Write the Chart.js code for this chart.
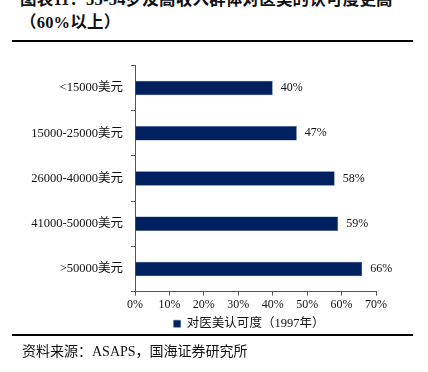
<!DOCTYPE html>
<html>
<head>
<meta charset="utf-8">
<script src="https://cdn.jsdelivr.net/npm/chart.js@4"></script>
<style>
  body { margin: 0; width: 428px; height: 372px; background: #fff; position: relative; overflow: hidden;
         font-family: "Liberation Serif", "Noto Sans CJK SC", serif; }
  .title { position: absolute; left: 20px; top: -12px; font-size: 16.5px; font-weight: bold; line-height: 23px; color: #111; white-space: nowrap; letter-spacing: 0.2px; }
  .rule { position: absolute; left: 12px; width: 401px; height: 2px; background: #000; }
  .source { position: absolute; left: 22px; top: 340px; font-size: 14px; color: #111; }
  #wrap { position: absolute; left: 0; top: 50px; width: 428px; height: 290px; }
</style>
</head>
<body>
<div class="title">图表11：35-54岁及高收入群体对医美的认可度更高<br>（60%以上）</div>
<div class="rule" style="top:40px"></div>
<div id="wrap"><canvas id="c"></canvas></div>
<div class="rule" style="top:334px"></div>
<div class="source">资料来源：ASAPS，国海证券研究所</div>
<script>
const categories = ['<15000美元', '15000-25000美元', '26000-40000美元', '41000-50000美元', '>50000美元'];
const approval = [40, 47, 58, 59, 66];
const seriesName = '对医美认可度（1997年）';
const xTicks = [0, 10, 20, 30, 40, 50, 60, 70];

const fontFamily = '"Liberation Serif", "Noto Sans CJK SC", serif';

// value labels at bar ends
const endLabels = {
  id: 'endLabels',
  afterDatasetsDraw(chart) {
    const ctx = chart.ctx;
    const meta = chart.getDatasetMeta(0);
    ctx.save();
    ctx.font = '12px ' + fontFamily;
    ctx.fillStyle = '#111';
    ctx.textBaseline = 'middle';
    meta.data.forEach((bar, i) => {
      ctx.fillText(approval[i] + '%', bar.x + 8, bar.y);
    });
    ctx.restore();
  }
};

// centre the legend roughly under the plot area instead of the whole canvas
const legendUnderPlot = {
  id: 'legendUnderPlot',
  afterLayout(chart) {
    if (!chart.legend) return;
    chart.legend.left = chart.chartArea.left - 13;
    chart.legend.right = chart.chartArea.right;
    chart.legend.width = chart.legend.right - chart.legend.left;
  }
};

new Chart(document.getElementById('c').getContext('2d'), {
  type: 'bar',
  data: {
    labels: categories,
    datasets: [{
      label: seriesName,
      data: approval,
      backgroundColor: '#00205f',
      borderColor: '#3a5a8f',
      borderWidth: 0.5,
      categoryPercentage: 1,
      barPercentage: 0.32
    }]
  },
  options: {
    indexAxis: 'y',
    responsive: true,
    maintainAspectRatio: false,
    animation: false,
    layout: { padding: { top: 15, right: 52, left: 0, bottom: 0 } },
    plugins: {
      legend: {
        position: 'bottom',
        labels: { boxWidth: 7, boxHeight: 7, color: '#111', font: { size: 12.5, family: fontFamily }, padding: 3.5 }
      },
      tooltip: { enabled: false }
    },
    scales: {
      x: {
        min: 0, max: 70,
        afterBuildTicks: s => { s.ticks = xTicks.map(v => ({ value: v })); },
        ticks: { color: '#111', font: { size: 12, family: fontFamily }, padding: 2, callback: v => v + '%' },
        grid: { drawOnChartArea: false, drawTicks: true, tickLength: 4, color: '#555' },
        border: { color: '#555', width: 1 }
      },
      y: {
        afterFit: s => { s.width = 135; },
        ticks: { color: '#111', font: { size: 12.5, family: fontFamily }, padding: 8 },
        grid: { drawOnChartArea: false, drawTicks: true, tickLength: 4, offset: true, color: '#555' },
        border: { color: '#555', width: 1 }
      }
    }
  },
  plugins: [endLabels, legendUnderPlot]
});
</script>
</body>
</html>
